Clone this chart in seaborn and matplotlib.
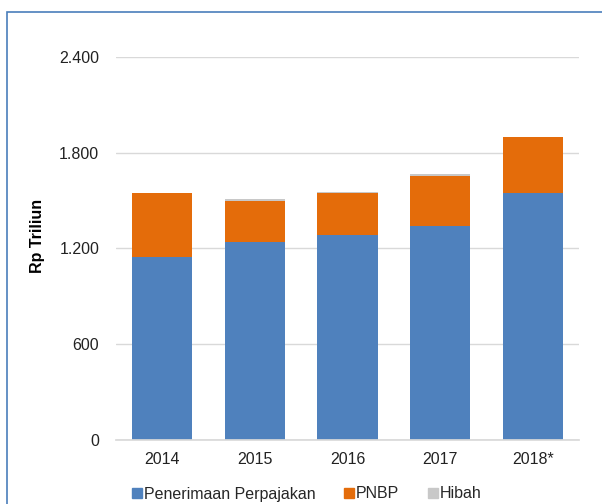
import numpy as np
import pandas as pd
import matplotlib
matplotlib.use("Agg")
import matplotlib.pyplot as plt
from matplotlib.patches import Rectangle
from matplotlib.lines import Line2D
from matplotlib.ticker import FuncFormatter
import seaborn as sns

# ------------------------------------------------------------
# Data (Rp Triliun)
# ------------------------------------------------------------
years = ["2014", "2015", "2016", "2017", "2018*"]
perpajakan = [1146.9, 1240.4, 1285.0, 1343.5, 1548.5]
pnbp = [398.6, 255.6, 261.9, 311.2, 349.2]
hibah = [5.0, 12.0, 9.0, 11.6, 1.2]

BLUE = "#4F81BD"
ORANGE = "#E46C0A"
GRAY = "#C8C8C8"

df = pd.DataFrame({"year": years, "perpajakan": perpajakan, "pnbp": pnbp, "hibah": hibah})
df["lvl2"] = df["perpajakan"] + df["pnbp"]
df["lvl3"] = df["lvl2"] + df["hibah"]

sns.set_theme(style="white")
plt.rcParams["font.family"] = ["Liberation Sans", "DejaVu Sans"]

fig = plt.figure(figsize=(6.02, 5.04), dpi=100)
W, H = 602, 504
ax = fig.add_axes([116 / W, 64 / H, (579 - 116) / W, (440 - 57) / H])

# stacked bars drawn from the top segment down
sns.barplot(data=df, x="year", y="lvl3", color=GRAY, saturation=1, width=0.65, ax=ax)
sns.barplot(data=df, x="year", y="lvl2", color=ORANGE, saturation=1, width=0.65, ax=ax)
sns.barplot(data=df, x="year", y="perpajakan", color=BLUE, saturation=1, width=0.65, ax=ax)
for p in ax.patches:
    p.set_edgecolor("none")

ax.set_xlim(-0.5, 4.5)
ax.set_ylim(0, 2400)
ax.set_yticks([0, 600, 1200, 1800, 2400])
ax.yaxis.set_major_formatter(FuncFormatter(lambda v, _: f"{int(v):,}".replace(",", ".")))
ax.grid(axis="y", color="#D9D9D9", linewidth=1)
ax.set_axisbelow(True)
for s in ["top", "right", "left"]:
    ax.spines[s].set_visible(False)
ax.spines["bottom"].set_color("#D9D9D9")
ax.tick_params(axis="both", length=0, labelsize=11.5, colors="#222222")
ax.tick_params(axis="y", pad=12)
ax.tick_params(axis="x", pad=9)
ax.set_xlabel("")
ax.set_ylabel("Rp Triliun", fontsize=11.5, fontweight="bold", color="black")
ax.yaxis.set_label_coords((45 - 116) / (579 - 116), (440 - 236) / (440 - 57))

handles = [Line2D([], [], marker="s", linestyle="", markersize=7, color=c)
           for c in [BLUE, ORANGE, GRAY]]
fig.legend(handles, ["Penerimaan Perpajakan", "PNBP", "Hibah"], loc="center",
           bbox_to_anchor=(306 / W, 1 - 494 / H), ncol=3, frameon=False,
           fontsize=11.5, handletextpad=0.05, columnspacing=1.7, handlelength=0.8)

# outer chart border
fig.patches.append(Rectangle((7 / W, -0.1), 1.2, 1 - 12 / H + 0.1, transform=fig.transFigure,
                             fill=False, edgecolor="#4A7EBB", linewidth=1.2))

fig.savefig("out.png", dpi=100)
